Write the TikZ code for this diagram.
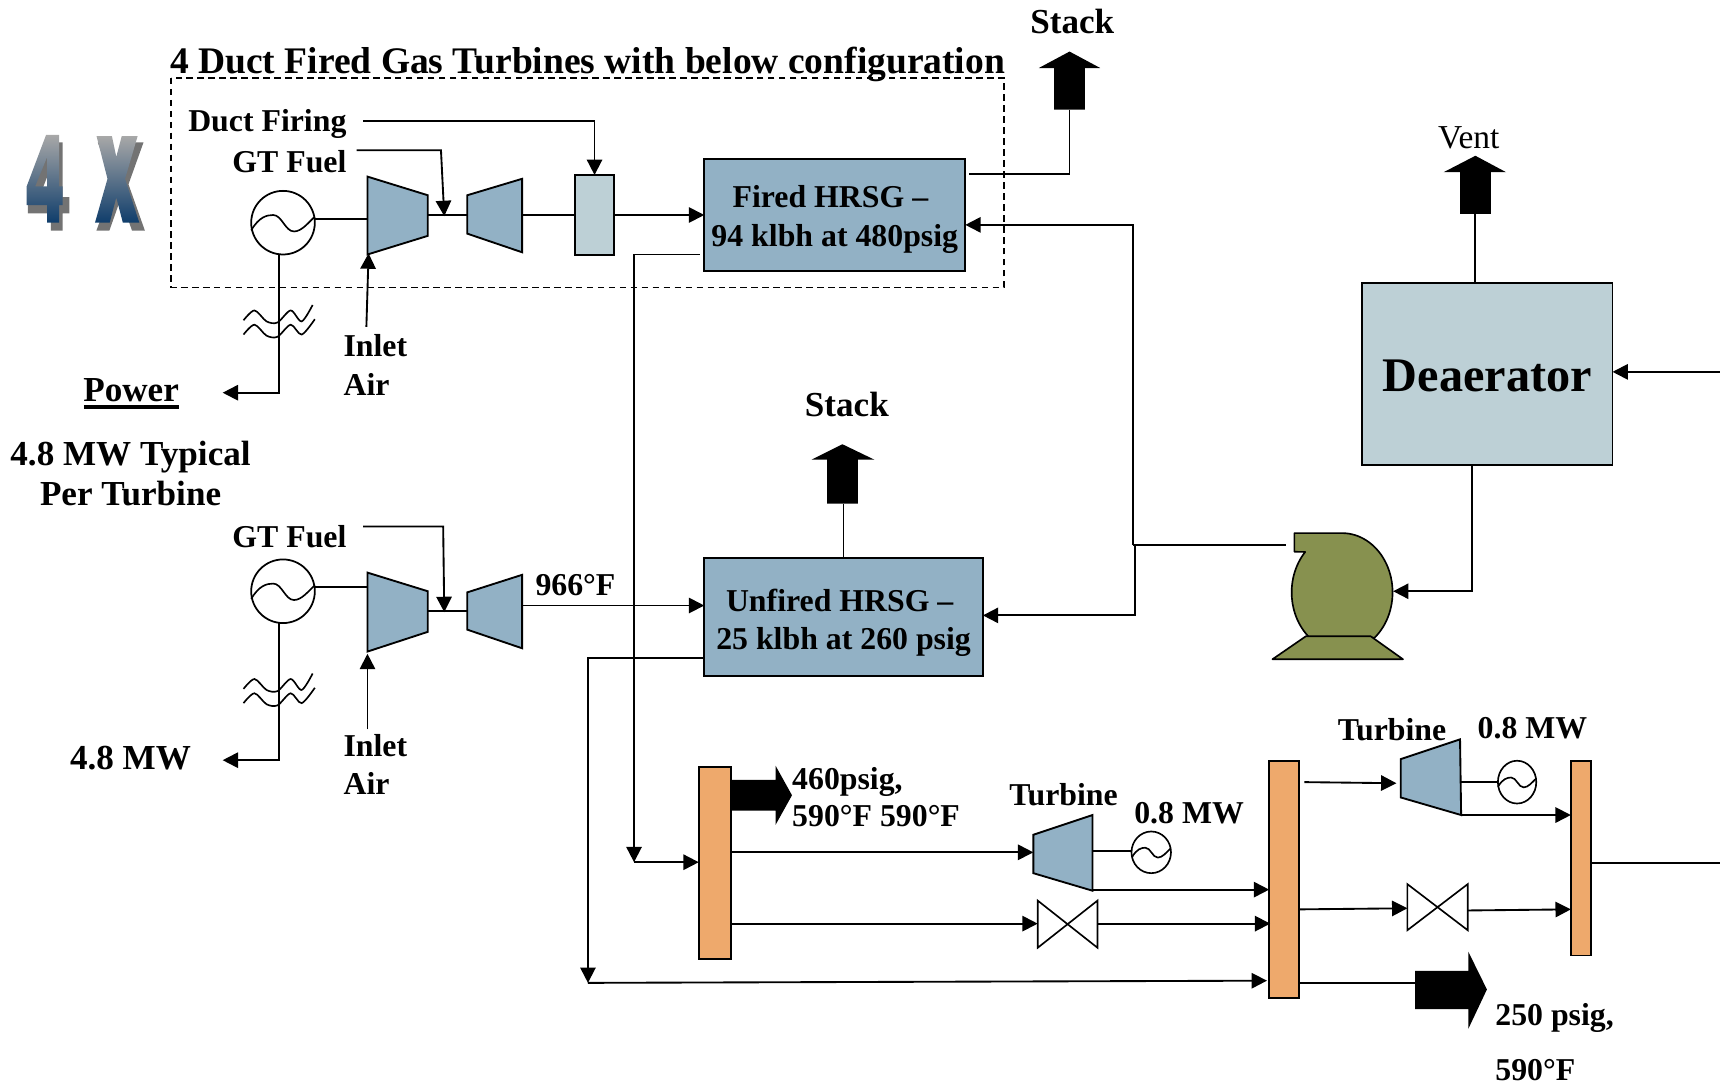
\documentclass[tikz,border=0pt]{standalone}
\usepackage{fontspec}
\setmainfont{Liberation Serif}
\newfontfamily\wafont{Liberation Sans}[BoldFeatures={FakeBold=3}]
\usetikzlibrary{arrows.meta,calc,shapes.geometric}
\definecolor{ductblue}{HTML}{92B1C5}
\definecolor{paleblue}{HTML}{BDD0D6}
\definecolor{hdrorange}{HTML}{EEA96C}
\definecolor{pumpgreen}{HTML}{87914F}
\definecolor{wtop}{HTML}{A8A8A8}
\definecolor{wbot}{HTML}{0F3D6B}
\newcommand{\fsz}[1]{\fontsize{#1}{#1}\selectfont}
\newcommand{\fourx}{\fsz{112}\wafont\bfseries}
\newcommand{\lowered}[2]{\raisebox{-#1}[\height][\depth]{#2}}
\tikzset{
  lbl/.style={inner sep=0pt,font=\fsz{29}\bfseries,align=center},
  lblb/.style={lbl,font=\fsz{32}\bfseries},
  eqp/.style={draw=black,line width=1.7pt,line join=miter},
  boxn/.style={eqp,rectangle,inner sep=0pt,outer sep=0pt,align=center},
  genc/.style={draw=black,line width=1.6pt,circle,inner sep=0pt,outer sep=0pt,minimum size=58pt},
  genm/.style={draw=black,line width=1.5pt,ellipse,inner sep=0pt,outer sep=0pt},
  conn/.style={draw=black,line width=1.7pt},
  arr/.style={conn,-{Triangle[length=14pt,width=14pt]}},
  face/.style={top color=wtop,bottom color=wbot},
  wshadow/.style={inner sep=0pt,text=black!55,font=\fourx},
}
\newcommand{\sinewave}[3]{\draw[line width=1.5pt,shift={(#1,#2)},x=#3pt,y=-#3pt]
  (-29,7) .. controls (-22,-5) and (-15,-7) .. (-9,-7) .. controls (-1,-7) and (2,8) .. (10,8) .. controls (17,8) and (23,0) .. (29,-5.5);}
\newcommand{\linemark}[2]{\begin{scope}[shift={(#1,#2)}]
  \draw[line width=1.5pt] plot[smooth] coordinates {(-32,2) (-22,-7) (-11,3) (-1,4) (11,-7) (21,3) (31,-12)};
  \draw[line width=1.5pt] plot[smooth] coordinates {(-32,15) (-22,6) (-11,16) (-1,17) (11,6) (21,15) (33,1)};
\end{scope}}
\begin{document}
\begin{tikzpicture}[x=1pt,y=-1pt]
\useasboundingbox (0,0) rectangle (1568,990);

% --- 4 X word art: real text as the shadow, shaded faces above it
\node[wshadow] (fourshadow) at (44,170) {\scalebox{.6}[1]{4}};
\node[wshadow] (xshadow) at (110,170) {\scalebox{.56}[1]{X}};
\shade[face,even odd rule] (42,123) -- (52,123) -- (54,123) -- (54,170) -- (57,170) -- (57,187) -- (54,187) -- (54,203) -- (43,203) -- (43,187) -- (24.3,187) -- (24.3,170) -- cycle
  (43,143) -- (43,170) -- (32,170) -- cycle;
\shade[face] (88,124) -- (102,124) -- (106,143) -- (111,124) -- (125.5,124) -- (114,163) -- (127,203) -- (112,203) -- (106,180) -- (100,203) -- (86.6,203) -- (98,163) -- cycle;

% --- dashed frame and title
\node[lbl,anchor=mid west,font=\fsz{34.2}\bfseries] (title) at (155,65) {4 Duct Fired Gas Turbines with below configuration};
\draw[line width=1.5pt,dash pattern=on 6pt off 4pt] (156,71) rectangle (915,262);

% --- coordinates for free connector ends
\coordinate (dfstart) at (331,110);
\coordinate (gfstart) at (325,137);
\coordinate (gfturn) at (402,137);
\coordinate (gfend) at (405,197);
\coordinate (gf2start) at (331,480);
\coordinate (gf2turn) at (404,480);
\coordinate (gf2end) at (405,558);
\coordinate (pwr1) at (203,358);
\coordinate (pwr2) at (203,693);
\coordinate (air1) at (334,298);
\coordinate (air1end) at (336,231);
\coordinate (air2) at (335,665);
\coordinate (air2end) at (335,596);
\coordinate (eastin) at (1568,339);
\coordinate (eastout) at (1568,787);
\coordinate (junA) at (1033,205);
\coordinate (junB) at (1033,497);
\coordinate (junC) at (1035,497);
\coordinate (junD) at (1035,561);
\coordinate (pumpin) at (1172,497);
\coordinate (fireddrop) at (578,232);
\coordinate (firedturn) at (578,786);
\coordinate (unfdrop) at (536,600);
\coordinate (unfturn) at (536,896);

% --- upper gas turbine train
\node[genc] (gen1) at (258,203) {};
\sinewave{258}{203}{1}
\fill[ductblue] (335,161) -- (390,178) -- (390,215) -- (335,232) -- cycle;
\draw[eqp] (335,161) -- (390,178) -- (390,215) -- (335,232) -- cycle;
\fill[ductblue] (426,178) -- (476,163) -- (476,230) -- (426,213) -- cycle;
\draw[eqp] (426,178) -- (476,163) -- (476,230) -- (426,213) -- cycle;
\coordinate (comp1w) at (335,200);
\coordinate (comp1e) at (390,196);
\coordinate (turb1w) at (426,196);
\coordinate (turb1e) at (476,196);
\node[boxn,fill=paleblue,minimum width=36pt,minimum height=73pt] (burner) at (542,196) {};
\node[boxn,fill=ductblue,minimum width=238pt,minimum height=102pt,font=\fsz{29}\bfseries] (fired) at (761,196) {\lowered{4pt}{Fired HRSG --\hspace*{8pt}}\\[6pt]\lowered{4pt}{94 klbh at 480psig}};

\draw[conn] (gen1.east |- comp1w) -- (comp1w);
\draw[conn] (comp1e) -- (turb1w);
\draw[conn] (turb1e) -- (burner.west |- turb1e);
\draw[arr] (burner.east |- fired.west) -- (fired.west);
\draw[arr] (dfstart) -| (burner.north);
\draw[arr] (gfstart) -- (gfturn) -- (gfend);
\draw[arr] (air1) -- (air1end);
\draw[arr] (gen1.south -| 254,0) -- (254,358) -- (pwr1);
\linemark{254}{290}

\node[lbl,anchor=mid east] (dflbl) at (316,118) {Duct Firing};
\node[lbl,anchor=mid east] (gflbl) at (316,155) {GT Fuel};
\node[lbl,anchor=mid west] (inlet1) at (313,323) {Inlet};
\node[lbl,anchor=mid west] (air1lbl) at (313,358) {Air};
\node[lblb,inner sep=2pt] (power) at (119.5,356) {Power};
\draw[line width=3pt] (76.5,371) -- (163,371);
\node[lblb] (typ) at (119,431.5) {4.8 MW Typical\\[5pt]Per Turbine};

% --- stack on fired HRSG
\node[lbl,font=\fsz{32}\bfseries] (stack1) at (977.5,20) {Stack};
\fill[black] (975,47) -- (1003,62) -- (989,62) -- (989,100) -- (961,100) -- (961,62) -- (947,62) -- cycle;
\coordinate (stack1b) at (975,100);
\draw[conn] (stack1b) -- (975,159) -- (883,159);

% --- lower gas turbine train
\node[genc] (gen2) at (258,539) {};
\sinewave{258}{539}{1}
\fill[ductblue] (335,522) -- (390,539) -- (390,576) -- (335,594) -- cycle;
\draw[eqp] (335,522) -- (390,539) -- (390,576) -- (335,594) -- cycle;
\fill[ductblue] (426,540) -- (476,524) -- (476,591) -- (426,574) -- cycle;
\draw[eqp] (426,540) -- (476,524) -- (476,591) -- (426,574) -- cycle;
\coordinate (comp2w) at (335,535);
\coordinate (comp2e) at (390,557);
\coordinate (turb2w) at (426,557);
\coordinate (turb2e) at (476,552);
\node[boxn,fill=ductblue,minimum width=254pt,minimum height=107pt,font=\fsz{29}\bfseries] (unfired) at (769,562.5) {\lowered{5pt}{Unfired HRSG --\hspace*{7pt}}\\[6pt]\lowered{5pt}{25 klbh at 260 psig}};
\draw[conn] (gen2.east |- comp2w) -- (comp2w);
\draw[conn] (comp2e) -- (turb2w);
\draw[arr] (turb2e) -- (unfired.west |- turb2e);
\draw[arr] (gf2start) -- (gf2turn) -- (gf2end);
\draw[arr] (air2) -- (air2end);
\draw[arr] (gen2.south -| 254,0) -- (254,693) -- (pwr2);
\linemark{254}{626}
\node[lbl,anchor=mid east] (gf2lbl) at (316,497) {GT Fuel};
\node[lbl,anchor=mid west] (tlbl) at (488,541) {966°F};
\node[lbl,anchor=mid west] (inlet2) at (313,687) {Inlet};
\node[lbl,anchor=mid west] (air2lbl) at (313,722) {Air};
\node[lblb] (mw48) at (119,691) {4.8 MW};

% --- stack on unfired HRSG
\node[lbl,font=\fsz{32}\bfseries] (stack2) at (772,369) {Stack};
\fill[black] (768,405) -- (797,419) -- (782,419) -- (782,459) -- (754,459) -- (754,419) -- (740,419) -- cycle;
\coordinate (stack2b) at (769,459);
\draw[conn] (stack2b) -- (unfired.north);

% --- deaerator
\node[boxn,fill=paleblue,minimum width=228pt,minimum height=166pt,font=\fsz{44}\bfseries] (dea) at (1356,341) {\lowered{2pt}{Deaerator}};
\node[inner sep=0pt,font=\fsz{30.5}] (vent) at (1339,126) {Vent};
\fill[black] (1345,142) -- (1373,157) -- (1359,157) -- (1359,195) -- (1331,195) -- (1331,157) -- (1316,157) -- cycle;
\coordinate (ventb) at (1345,195);
\draw[conn] (ventb) -- (ventb |- dea.north);
\draw[arr] (eastin) -- (dea.east |- eastin);

% --- pump
\filldraw[fill=pumpgreen,draw=black,line width=1.5pt,line join=round]
  (1180,486) -- (1223.5,486)
  -- plot[domain=90:-50,samples=40] ({1223.5+46*cos(\x)},{540-54*sin(\x)})
  -- plot[domain=230:137,samples=30] ({1223.5+46*cos(\x)},{540-54*sin(\x)})
  -- (1180,503) -- cycle;
\filldraw[fill=pumpgreen,draw=black,line width=1.5pt,line join=round]
  (1190.5,580) -- (1249.5,580) -- (1279,601) -- (1160,601) -- cycle;
\coordinate (pumpe) at (1270,539);
\draw[arr] (dea.south -| 1342,0) -- (1342,539) -- (pumpe);
\draw[conn] (pumpin) -- (junB) ;
\draw[arr] (junB) -- (junA) -- (fired.east |- junA);
\draw[arr] (junC) -- (junD) -- (unfired.east |- junD);

% --- headers
\node[boxn,fill=hdrorange,minimum width=29pt,minimum height=175pt] (hdrA) at (651.5,786.5) {};
\node[boxn,fill=hdrorange,minimum width=27pt,minimum height=216pt] (hdrB) at (1170.5,802) {};
\node[boxn,fill=hdrorange,minimum width=18pt,minimum height=177pt] (hdrC) at (1441,782.5) {};

% --- steam from HRSGs
\draw[arr] ($(fired.west |- fireddrop)+(-4,0)$) -- (fireddrop) -- (firedturn);
\draw[arr] (firedturn) -- (hdrA.west |- firedturn);
\draw[arr] (unfired.west |- unfdrop) -- (unfdrop) -- (unfturn);
\draw[arr] (unfturn) -- (1155,894);

% --- big arrows
\fill[black] (hdrA.east |- 0,711) -- (707,711) -- (707,698) -- (722,725) -- (707,752) -- (707,739) -- (hdrA.east |- 0,739) -- cycle;
\node[lbl,anchor=mid west] (p460a) at (722,717) {460psig,};
\node[lbl,anchor=mid west] (p460b) at (722,751) {590°F 590°F};
\fill[black] (1290,885) -- (1338.5,885) -- (1338.5,867.5) -- (1355.5,902) -- (1338.5,938) -- (1338.5,920) -- (1290,920) -- cycle;
\coordinate (big2w) at (1290,896);
\draw[conn] (hdrB.east |- big2w) -- (big2w);
\node[lbl,anchor=mid west] (p250a) at (1363,933) {250 psig,};
\node[lbl,anchor=mid west] (p250b) at (1363,983) {590°F};

% --- lower turbine and valve
\fill[ductblue] (942,761) -- (996,743) -- (996,812) -- (942,796) -- cycle;
\draw[eqp] (942,761) -- (996,743) -- (996,812) -- (942,796) -- cycle;
\coordinate (tA) at (942,777);
\coordinate (tAe) at (996,776);
\coordinate (tAo) at (996,811);
\node[genm,minimum width=36pt,minimum height=38pt] (genA) at (1049.5,777) {};
\sinewave{1049.5}{777}{.6}
\draw[conn] (tAe) -- (genA.west |- tAe);
\draw[arr] (hdrA.east |- tA) -- (tA);
\draw[arr] (tAo) -- (hdrB.west |- tAo);
\node[lbl] (turbAl) at (969.5,724) {Turbine};
\node[lbl] (mwA) at (1084,741) {0.8 MW};
\filldraw[fill=white,draw=black,line width=1.5pt,line join=miter] (946,821) -- (1000.5,864) -- (1000.5,821) -- (946,864) -- cycle;
\coordinate (vAw) at (946,842);
\coordinate (vAe) at (1000.5,842);
\draw[arr] (hdrA.east |- vAw) -- (vAw);
\draw[arr] (vAe) -- (1158,842);

% --- upper turbine and valve
\fill[ductblue] (1277,692) -- (1331,674) -- (1332,743) -- (1277,727) -- cycle;
\draw[eqp] (1277,692) -- (1331,674) -- (1332,743) -- (1277,727) -- cycle;
\coordinate (tBw) at (1273,714);
\coordinate (tBe) at (1332,713);
\coordinate (tBo) at (1332,743);
\node[genm,minimum width=35pt,minimum height=39pt] (genB) at (1383,713) {};
\sinewave{1383}{713}{.6}
\draw[conn] (tBe) -- (genB.west |- tBe);
\draw[arr] ($(hdrB.east |- tBw)+(5,-1)$) -- (tBw);
\draw[arr] (tBo) -- (hdrC.west |- tBo);
\node[lbl] (turbBl) at (1269,665) {Turbine};
\node[lbl] (mwB) at (1397,664) {0.8 MW};
\filldraw[fill=white,draw=black,line width=1.5pt,line join=miter] (1283,806) -- (1338,848) -- (1338,806) -- (1283,848) -- cycle;
\coordinate (vBw) at (1283,828);
\coordinate (vBe) at (1338,830);
\draw[arr] ($(hdrB.east |- vBw)+(1,1)$) -- (vBw);
\draw[arr] (vBe) -- ($(hdrC.west |- vBe)+(0,-1)$);
\draw[conn] (hdrC.east |- eastout) -- (eastout);
\end{tikzpicture}
\end{document}
